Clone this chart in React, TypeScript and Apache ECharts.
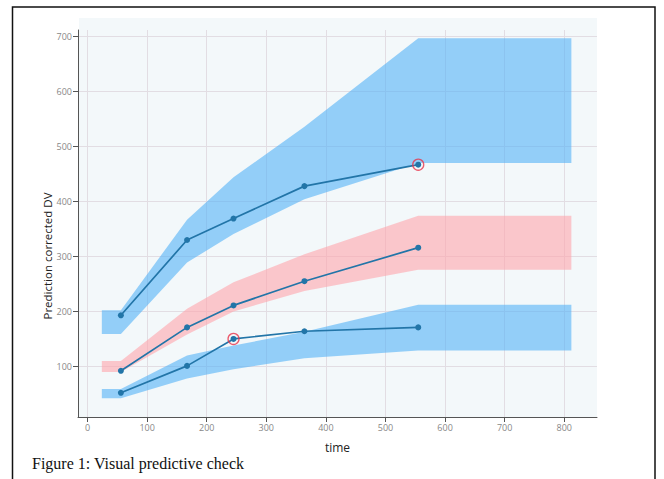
import React, { useEffect, useRef } from "react";
import * as echarts from "echarts";

// Prediction-interval bands (time grid shared by all three bands)
const bandTime = [24, 56, 167, 245, 364, 555, 812];
const upperHi = [202, 202, 367, 444, 536, 697, 697];
const upperLo = [159, 159, 289, 341, 404, 470, 470];
const midHi = [110, 110, 205, 253, 304, 374, 374];
const midLo = [90, 90, 158, 200, 237, 276, 276];
const lowHi = [59, 59, 120, 138, 163, 212, 212];
const lowLo = [42, 42, 78, 95, 115, 129, 129];

// Observed percentiles per time bin
const obsTime = [56, 167, 245, 364, 555];
const obsUpper = [193, 330, 369, 428, 467];
const obsMid = [92, 171, 211, 255, 316];
const obsLow = [52, 101, 150, 164, 171];

// Observed points falling outside their band
const outlierTime = [245, 555];
const outlierValue = [150, 467];

const X_MIN = -16;
const X_MAX = 855;
const Y_MIN = 8;
const Y_MAX = 712;

const BLUE_BAND = "rgba(84,178,246,0.6)";
const PINK_BAND = "rgba(255,165,172,0.6)";
const LINE = "#2275a8";

function pairs(xs: number[], ys: number[]) {
  return xs.map((x, i) => [x, ys[i]]);
}

// One filled polygon per band: upper edge left-to-right, lower edge back
function band(name: string, lo: number[], hi: number[], color: string) {
  return {
    name,
    type: "custom",
    data: bandTime.map((t, i) => [t, lo[i], hi[i]]),
    encode: { x: 0, y: [1, 2] },
    silent: true,
    clip: true,
    z: 1,
    renderItem: (params: any, api: any) => {
      if (params.dataIndex !== 0) return null;
      const top = bandTime.map((t, i) => api.coord([t, hi[i]]));
      const bottom = bandTime.map((t, i) => api.coord([t, lo[i]])).reverse();
      return {
        type: "polygon",
        shape: { points: top.concat(bottom) },
        style: { fill: color },
      };
    },
  };
}

function obsLine(name: string, ys: number[]) {
  return {
    name,
    type: "line",
    data: pairs(obsTime, ys),
    symbol: "circle",
    symbolSize: 6,
    itemStyle: { color: LINE },
    lineStyle: { color: LINE, width: 1.7 },
    z: 3,
  };
}

const axisFont = { color: "#888", fontSize: 9, fontFamily: "Open Sans" };

export default function App() {
  const ref = useRef<HTMLDivElement>(null);

  useEffect(() => {
    if (!ref.current) return;
    const chart = echarts.init(ref.current, undefined, { renderer: "svg" });
    chart.setOption({
      animation: false,
      backgroundColor: "#ffffff",
      grid: {
        left: 78,
        right: 67,
        top: 30,
        bottom: 62,
        containLabel: false,
        outerBoundsMode: "none",
      },
      xAxis: {
        type: "value",
        min: X_MIN,
        max: X_MAX,
        splitNumber: 9,
        minInterval: 100,
        maxInterval: 100,
        name: "time",
        nameLocation: "middle",
        nameGap: 24,
        nameTextStyle: {
          color: "#222",
          fontSize: 12,
          fontFamily: "Open Sans",
          fontWeight: 500,
        },
        axisLine: { show: true, onZero: false, lineStyle: { color: "#555", width: 1 } },
        axisTick: { show: true, length: 5, lineStyle: { color: "#555" } },
        axisLabel: { ...axisFont, margin: 6, showMinLabel: false, showMaxLabel: false },
        splitLine: {
          show: true,
          showMinLine: false,
          showMaxLine: false,
          lineStyle: { color: "#e2dde3", width: 1 },
        },
      },
      yAxis: {
        type: "value",
        min: Y_MIN,
        max: Y_MAX,
        splitNumber: 7,
        minInterval: 100,
        maxInterval: 100,
        axisLine: { show: true, onZero: false, lineStyle: { color: "#555", width: 1 } },
        axisTick: { show: true, length: 5, lineStyle: { color: "#555" } },
        axisLabel: { ...axisFont, margin: 6, showMinLabel: false, showMaxLabel: false },
        splitLine: {
          show: true,
          showMinLine: false,
          showMaxLine: false,
          lineStyle: { color: "#e2dde3", width: 1 },
        },
      },
      graphic: [
        {
          type: "rect",
          z: -10,
          silent: true,
          shape: { x: 79, y: 18, width: 518, height: 399 },
          style: { fill: "#f3f8fa" },
        },
        {
          type: "rect",
          z: 100,
          silent: true,
          shape: { x: 12.5, y: 7, width: 642.5, height: 490 },
          style: { fill: "none", stroke: "#111", lineWidth: 1.5 },
        },
        {
          type: "text",
          z: 100,
          silent: true,
          x: 47,
          y: 256,
          rotation: Math.PI / 2,
          style: {
            text: "Prediction corrected DV",
            fill: "#222",
            fontSize: 11.5,
            fontFamily: "Open Sans",
            align: "center",
            verticalAlign: "middle",
          },
        },
        {
          type: "text",
          z: 100,
          silent: true,
          x: 32,
          y: 463,
          style: {
            text: "Figure 1: Visual predictive check",
            fill: "#111",
            fontSize: 16,
            fontFamily: "Liberation Serif",
            align: "left",
            verticalAlign: "middle",
          },
        },
      ],
      series: [
        band("upper", upperLo, upperHi, BLUE_BAND),
        band("median", midLo, midHi, PINK_BAND),
        band("lower", lowLo, lowHi, BLUE_BAND),
        obsLine("obs-upper", obsUpper),
        obsLine("obs-median", obsMid),
        obsLine("obs-lower", obsLow),
        {
          name: "outside",
          type: "scatter",
          data: pairs(outlierTime, outlierValue),
          symbol: "circle",
          symbolSize: 11,
          itemStyle: { color: "rgba(0,0,0,0)", borderColor: "#e8334a", borderWidth: 1.3 },
          z: 4,
        },
      ],
    });
    return () => chart.dispose();
  }, []);

  return (
    <div
      ref={ref}
      style={{ position: "fixed", left: 0, top: 0, width: 664, height: 479 }}
    />
  );
}
